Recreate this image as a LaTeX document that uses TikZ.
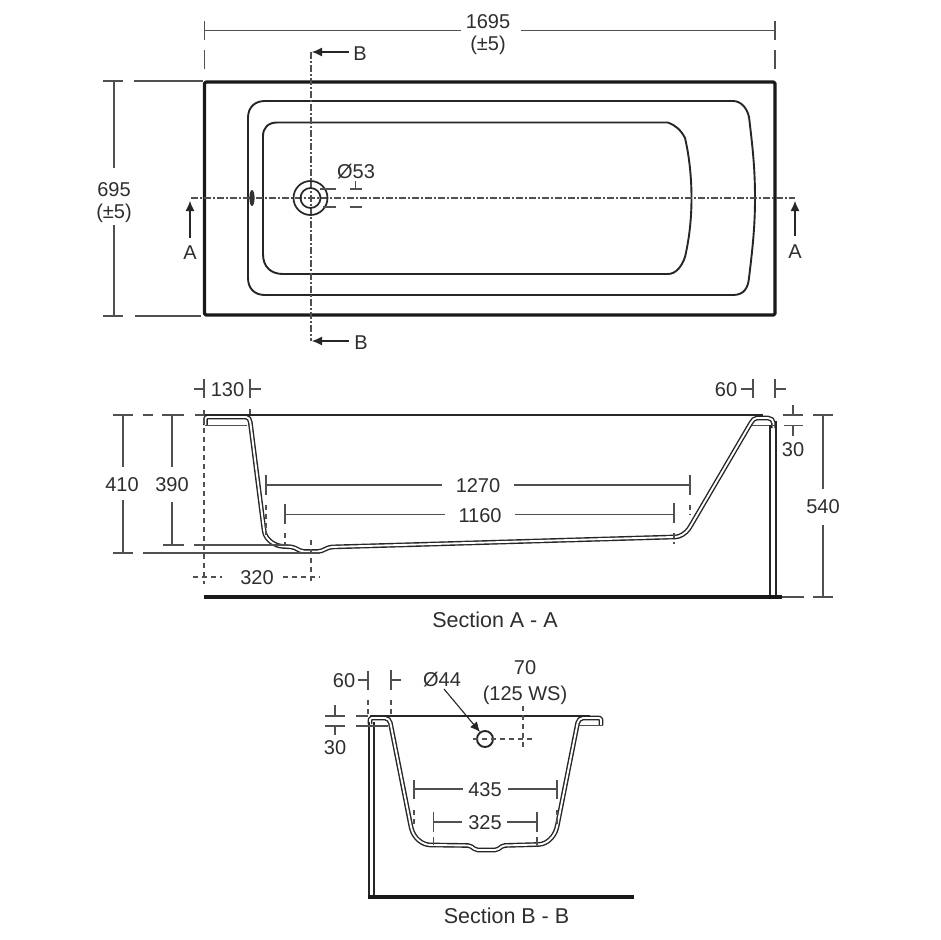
\documentclass[tikz,border=0pt]{standalone}
\usepackage{fontspec}
\setmainfont{Liberation Sans}
\usetikzlibrary{arrows.meta}
\definecolor{dimc}{HTML}{505050}
\definecolor{txtc}{HTML}{2E2E2E}
\tikzset{
  outline/.style={draw=black!90,line width=3.2pt,line join=round},
  contour/.style={draw=black!85,line width=1.9pt},
  sheet/.style={draw=black!85,line width=1.4pt,double=white,double distance=1.9pt,line join=round},
  topline/.style={draw=black!85,line width=2.2pt},
  panelline/.style={draw=black!85,line width=2pt},
  dimline/.style={draw=dimc,line width=1.2pt},
  dimdash/.style={draw=dimc,line width=1.2pt,dash pattern=on 5pt off 4pt},
  centreline/.style={draw=dimc,line width=1.2pt,dash pattern=on 7pt off 2pt on 2pt off 2pt},
  sectarrow/.style={draw=black!85,line width=1.1pt,-{Latex[length=10pt,width=9pt]}},
  lbl/.style={text=txtc,inner sep=0pt,font=\fontsize{20}{23}\selectfont,align=center,yshift=-0.7pt},
  seclbl/.style={text=txtc,inner sep=0pt,font=\fontsize{21.5}{23}\selectfont}
}
\begin{document}
\begin{tikzpicture}[x=1pt,y=-1pt]
\useasboundingbox[fill=white] (0,0) rectangle (940,940);

% ---------- Plan ----------
\draw[outline,rounded corners=1.5pt] (204.5,82) rectangle (775,315);
\draw[contour] (733,101) -- (265,101) .. controls (254,101) and (248,108) .. (248,118)
  -- (248,278) .. controls (248,289) and (255,295) .. (265,295) -- (733,295)
  .. controls (744,295) and (748,288) .. (749,278) .. controls (753,245) and (755,225) .. (755,198)
  .. controls (755,170) and (753,150) .. (749,117) .. controls (747,108) and (741,101) .. (733,101) -- cycle;
\draw[contour] (668,122.5) -- (277,122.5) .. controls (268,122.5) and (263,128) .. (263,136)
  -- (263,254) .. controls (263,267) and (271,274) .. (283,274) -- (668,274)
  .. controls (676,274) and (682,266) .. (685,257) .. controls (689,240) and (691.5,220) .. (691.5,198)
  .. controls (691.5,176) and (689,155) .. (685,138) .. controls (681,130) and (675,125) .. (668,122.5) -- cycle;
\draw[centreline] (191,198) -- (795,198);
\draw[centreline] (311,52) -- (311,341);
\draw[contour,line width=1.7pt] (310.5,198) circle (17);
\draw[contour,line width=1.7pt] (310.5,198) circle (10);
\fill[black!80] (252,198) ellipse (2.6 and 8);

\draw[sectarrow] (349,52) -- (312,52);
\draw[sectarrow] (349,341) -- (312,341);
\draw[sectarrow] (190,238) -- (190,201);
\draw[sectarrow] (795,236) -- (795,201);
\node[lbl] (secB1) at (360,52.5) {B};
\node[lbl] (secB2) at (361,341.5) {B};
\node[lbl] (secA1) at (190,251.5) {A};
\node[lbl] (secA2) at (795,250.5) {A};

% Ø53
\node[lbl] (d53) at (356,171) {Ø53};
\draw[dimline] (320,189) -- (336,189) (350,189) -- (362,189) (355.5,181) -- (355.5,189);
\draw[dimline] (323,207) -- (336,207) (350,207) -- (362,207);

% 1695
\node[lbl] (w1695) at (488,33.5) {1695\\[-1pt](±5)};
\draw[dimline] (204.5,21) -- (204.5,40) (204.5,30.5) -- (461,30.5) (521,30.5) -- (775,30.5) (775,21) -- (775,40);
\draw[dimline] (204.5,50) -- (204.5,69) (775,50) -- (775,69);

% 695
\node[lbl] (h695) at (114,201.5) {695\\[-1pt](±5)};
\draw[dimline] (103,81) -- (123,81) (134,81) -- (203,81) (103,316) -- (123,316) (135,316) -- (201,316);
\draw[dimline] (114,81) -- (114,168) (114,225) -- (114,316);

% ---------- Section A-A ----------
\draw[topline] (204,415) -- (763,415);
\draw[sheet] (205.5,425) -- (205.5,419) [rounded corners=2pt] -- (205.5,417) -- (248,417)
  -- (250,420) -- (264,530) .. controls (266,540) and (275,546) .. (285,546.5) -- (293,547)
  -- (302,551.5) -- (320,551.5) -- (330,547) -- (400,545) -- (673,537)
  .. controls (680,537) and (686,533) .. (690,527) -- (752,421) -- (755,418) -- (770,418)
  -- (773.5,421) -- (773.5,428);
\draw[dimline,line width=1.6pt] (205,425.5) -- (247,425.5) (752,425.5) -- (775,425.5);
\draw[panelline] (770,425) -- (770,597) (775.5,421) -- (775.5,597);
\draw[outline] (204,597) -- (782,597);

\node[lbl] (d130) at (227.5,388.5) {130};
\draw[dimline] (204,379) -- (204,398) (194,389) -- (204,389) (250,379) -- (250,398) (250,389) -- (261,389);
\draw[dimdash] (204,410) -- (204,584) (250,409) -- (250,417);
\node[lbl] (d410) at (122,484) {410};
\draw[dimline] (123,415) -- (123,467) (123,500) -- (123,553) (113,415) -- (133,415) (113,553) -- (133,553);
\draw[dimdash,dash pattern=on 10pt off 10pt] (143,415) -- (165,415);
\draw[dimline] (143,553) -- (320,553);
\node[lbl] (d390) at (172,484) {390};
\draw[dimline] (172,415) -- (172,467) (172,502) -- (172,545) (162,415) -- (184,415) (163,545) -- (184,545) (194,545) -- (288,545);
\draw[dimdash,dash pattern=on 10pt off 10pt] (195,415) -- (215,415);
\node[lbl] (d320) at (257,577) {320};
\draw[dimdash] (193,577) -- (222,577) (283,577) -- (320,577) (311,540) -- (311,584);
\node[lbl] (d1270) at (478,485) {1270};
\draw[dimline] (266,475) -- (266,495) (266,485) -- (442,485) (514,485) -- (690,485) (690,475) -- (690,495);
\draw[dimdash] (266,505) -- (266,535) (690,505) -- (690,515);
\node[lbl] (d1160) at (480,514.5) {1160};
\draw[dimline] (285,504) -- (285,524) (285,514.5) -- (445,514.5) (515,514.5) -- (674,514.5) (674,503) -- (674,523);
\draw[dimdash] (285,533) -- (285,545) (674,533) -- (674,544);
\node[lbl] (d60a) at (726,389) {60};
\draw[dimline] (741,389) -- (753,389) (753,379) -- (753,398) (775,379) -- (775,398) (775,389) -- (786,389);
\draw[dimline] (793,405) -- (793,415) (783,415) -- (803,415) (784,425.5) -- (803,425.5) (793,425.5) -- (793,436);
\node[lbl] (d30a) at (793,449) {30};
\node[lbl] (d540) at (823,506) {540};
\draw[dimline] (823,415) -- (823,489) (823,525) -- (823,597) (813,415) -- (833,415) (813,597) -- (833,597) (782,597) -- (804,597);
\node[seclbl] (secAA) at (495,619.5) {Section A - A};

% ---------- Section B-B ----------
\draw[topline] (370,716) -- (590,716);
\draw[sheet] (370,724) -- (370,722) [rounded corners=2pt] -- (370,718) -- (387,718) -- (390,721)
  -- (411,827) .. controls (414,838) and (422,845) .. (433,845) -- (470,845.5)
  -- (476,850) -- (497,850) -- (503,845.5) -- (537,844.5)
  .. controls (547,844) and (554,837) .. (557,827) -- (578,721) -- (581,718) -- (601,718) -- (601,725);
\draw[dimline,line width=1.6pt] (372,725.5) -- (388,725.5) (579,725.5) -- (603,725.5);
\draw[panelline] (368.5,722) -- (368.5,897) (373.5,722) -- (373.5,897);
\draw[outline] (368,897) -- (634,897);

\node[lbl] (d60b) at (344,680) {60};
\draw[dimline] (358,680) -- (368,680) (368,671) -- (368,690) (391,670) -- (391,690) (391,680) -- (401,680);
\draw[dimdash] (368,700) -- (368,714) (391,700) -- (391,714);
\draw[dimline] (335,705) -- (335,716) (325,716) -- (345,716) (325,726) -- (345,726) (335,726) -- (335,735);
\draw[dimline] (356,716) -- (368,716) (356,726) -- (388,726);
\node[lbl] (d30b) at (335,747) {30};
\node[lbl] (d44) at (442,679) {Ø44};
\node[lbl] (d70) at (525,682) {70\\[3pt](125 WS)};
\draw[contour] (485,739) circle (8);
\draw[sectarrow] (444,689) -- (480,732);
\draw[dimdash] (473,739) -- (534,739) (523,706) -- (523,750);
\node[lbl] (d435) at (485,789) {435};
\draw[dimline] (414,780) -- (414,799) (414,789) -- (463,789) (508,789) -- (557,789) (557,780) -- (557,799);
\draw[dimdash] (414,810) -- (414,826) (557,810) -- (557,826);
\node[lbl] (d325) at (485,822) {325};
\draw[dimline] (433.5,812) -- (433.5,832) (433.5,822) -- (462,822) (507,822) -- (537,822) (537,812) -- (537,832);
\draw[dimline] (433.5,837) -- (433.5,845) (537,837) -- (537,845);
\node[seclbl] (secBB) at (506.5,916) {Section B - B};
\end{tikzpicture}
\end{document}
